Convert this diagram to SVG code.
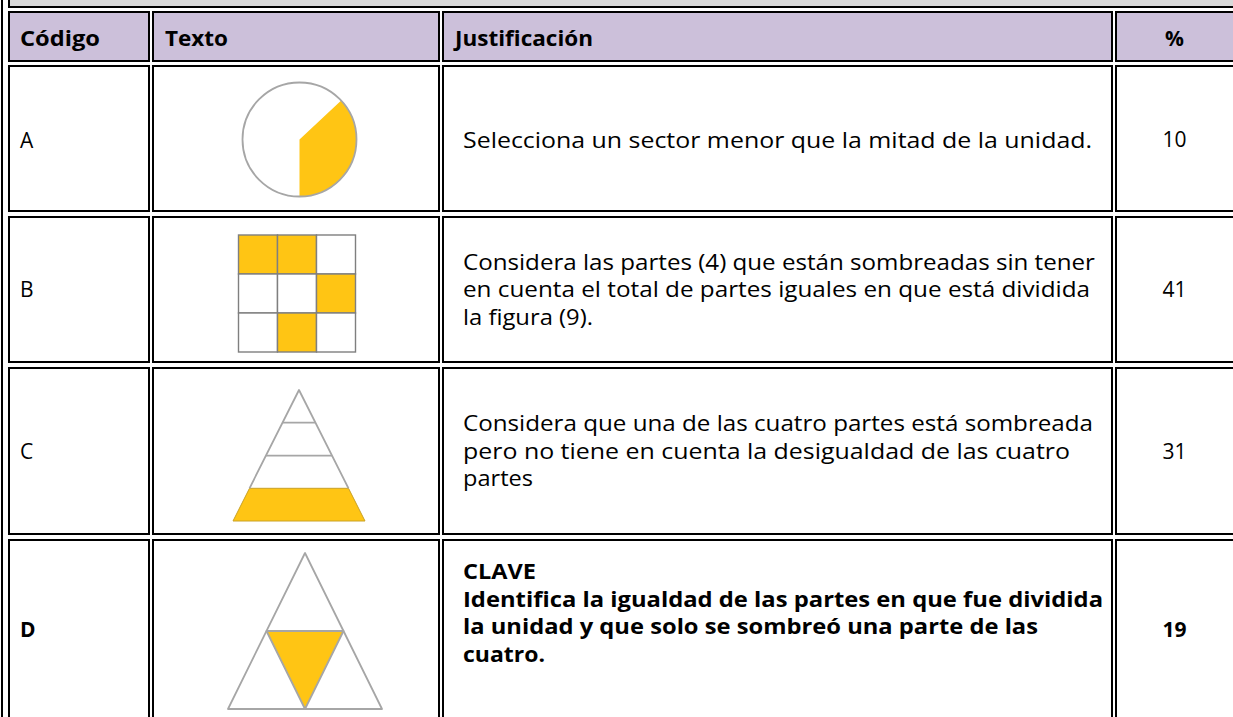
<svg xmlns="http://www.w3.org/2000/svg" width="1233" height="717" viewBox="0 0 1233 717">
<style>
.cell{fill:#fff;stroke:#000;stroke-width:2}
.hdr{fill:#CCC0DA;stroke:#000;stroke-width:2}
.band{fill:#D9D9D9;stroke:#000;stroke-width:2}
.t{font-family:"Open Sans","Liberation Sans",sans-serif;font-size:21px;fill:#000}
.b{font-weight:700}
.m{text-anchor:middle}
.fig{fill:none;stroke:#A6A6A6;stroke-width:1.8;stroke-linejoin:round}
.grid{stroke:#7F7F7F;stroke-width:1.4}
.y{fill:#FFC514}
.w{fill:#fff}
</style>
<rect width="1233" height="717" fill="#fff"/>
<line x1="2" y1="0" x2="2" y2="717" stroke="#000" stroke-width="2"/>
<rect class="band" x="9" y="-30" width="1240" height="37"/>

<g id="header">
  <rect class="hdr" x="9" y="12" width="140" height="49"/>
  <rect class="hdr" x="153" y="12" width="286" height="49"/>
  <rect class="hdr" x="443" y="12" width="669" height="49"/>
  <rect class="hdr" x="1116" y="12" width="130" height="49"/>
  <text class="t b" x="20" y="46" textLength="80" lengthAdjust="spacingAndGlyphs">Código</text>
  <text class="t b" x="165" y="46" textLength="63" lengthAdjust="spacingAndGlyphs">Texto</text>
  <text class="t b" x="455" y="46" textLength="138" lengthAdjust="spacingAndGlyphs">Justificación</text>
  <text class="t b m" x="1174.5" y="46">%</text>
</g>

<g id="row-a">
  <rect class="cell" x="9" y="66" width="140" height="145"/>
  <rect class="cell" x="153" y="66" width="286" height="145"/>
  <rect class="cell" x="443" y="66" width="669" height="145"/>
  <rect class="cell" x="1116" y="66" width="130" height="145"/>
  <text class="t" x="20" y="148">A</text>
  <g id="fig-a">
    <path class="y" d="M299.5,139.5 L299.5,196.5 A57,57 0 0,0 341.2,100.6 Z"/>
    <circle class="fig" cx="299.5" cy="139.5" r="57"/>
  </g>
  <text class="t" x="463" y="148" textLength="629" lengthAdjust="spacingAndGlyphs">Selecciona un sector menor que la mitad de la unidad.</text>
  <text class="t m" x="1174.5" y="147">10</text>
</g>

<g id="row-b">
  <rect class="cell" x="9" y="217" width="140" height="145"/>
  <rect class="cell" x="153" y="217" width="286" height="145"/>
  <rect class="cell" x="443" y="217" width="669" height="145"/>
  <rect class="cell" x="1116" y="217" width="130" height="145"/>
  <text class="t" x="20" y="297">B</text>
  <g id="fig-b" class="grid">
    <rect class="y" x="238.5" y="235" width="39" height="39"/>
    <rect class="y" x="277.5" y="235" width="39" height="39"/>
    <rect class="w" x="316.5" y="235" width="39" height="39"/>
    <rect class="w" x="238.5" y="274" width="39" height="39"/>
    <rect class="w" x="277.5" y="274" width="39" height="39"/>
    <rect class="y" x="316.5" y="274" width="39" height="39"/>
    <rect class="w" x="238.5" y="313" width="39" height="39"/>
    <rect class="y" x="277.5" y="313" width="39" height="39"/>
    <rect class="w" x="316.5" y="313" width="39" height="39"/>
  </g>
  <text class="t" x="463" y="269.5" textLength="632" lengthAdjust="spacingAndGlyphs">Considera las partes (4) que están sombreadas sin tener</text>
  <text class="t" x="463" y="297.2" textLength="627" lengthAdjust="spacingAndGlyphs">en cuenta el total de partes iguales en que está dividida</text>
  <text class="t" x="463" y="324.9" textLength="130" lengthAdjust="spacingAndGlyphs">la figura (9).</text>
  <text class="t m" x="1174.5" y="297">41</text>
</g>

<g id="row-c">
  <rect class="cell" x="9" y="368" width="140" height="166"/>
  <rect class="cell" x="153" y="368" width="286" height="166"/>
  <rect class="cell" x="443" y="368" width="669" height="166"/>
  <rect class="cell" x="1116" y="368" width="130" height="166"/>
  <text class="t" x="20" y="458.5">C</text>
  <g id="fig-c">
    <polygon class="y" points="249.5,488.3 348.5,488.3 365,521 233,521" stroke="#C9A227" stroke-width="1"/>
    <polyline class="fig" points="249.5,488.3 299,390 348.5,488.3"/>
    <line class="fig" x1="282.5" y1="422.7" x2="315.5" y2="422.7"/>
    <line class="fig" x1="266" y1="455.7" x2="332" y2="455.7"/>
  </g>
  <text class="t" x="463" y="430.8" textLength="630" lengthAdjust="spacingAndGlyphs">Considera que una de las cuatro partes está sombreada</text>
  <text class="t" x="463" y="458.5" textLength="607" lengthAdjust="spacingAndGlyphs">pero no tiene en cuenta la desigualdad de las cuatro</text>
  <text class="t" x="463" y="486.2" textLength="70" lengthAdjust="spacingAndGlyphs">partes</text>
  <text class="t m" x="1174.5" y="458.5">31</text>
</g>

<g id="row-d">
  <rect class="cell" x="9" y="540" width="140" height="200"/>
  <rect class="cell" x="153" y="540" width="286" height="200"/>
  <rect class="cell" x="443" y="540" width="669" height="200"/>
  <rect class="cell" x="1116" y="540" width="130" height="200"/>
  <text class="t b" x="20" y="637">D</text>
  <g id="fig-d">
    <polygon class="y" points="266.5,631 343.5,631 305,709"/>
    <polygon class="fig" points="305,553 228,709 382,709"/>
    <polygon class="fig" points="266.5,631 343.5,631 305,709"/>
  </g>
  <text class="t b" x="463" y="579" textLength="73" lengthAdjust="spacingAndGlyphs">CLAVE</text>
  <text class="t b" x="463" y="606.7" textLength="640" lengthAdjust="spacingAndGlyphs">Identifica la igualdad de las partes en que fue dividida</text>
  <text class="t b" x="463" y="634.4" textLength="575" lengthAdjust="spacingAndGlyphs">la unidad y que solo se sombreó una parte de las</text>
  <text class="t b" x="463" y="662" textLength="82" lengthAdjust="spacingAndGlyphs">cuatro.</text>
  <text class="t b m" x="1174.5" y="637">19</text>
</g>
</svg>
